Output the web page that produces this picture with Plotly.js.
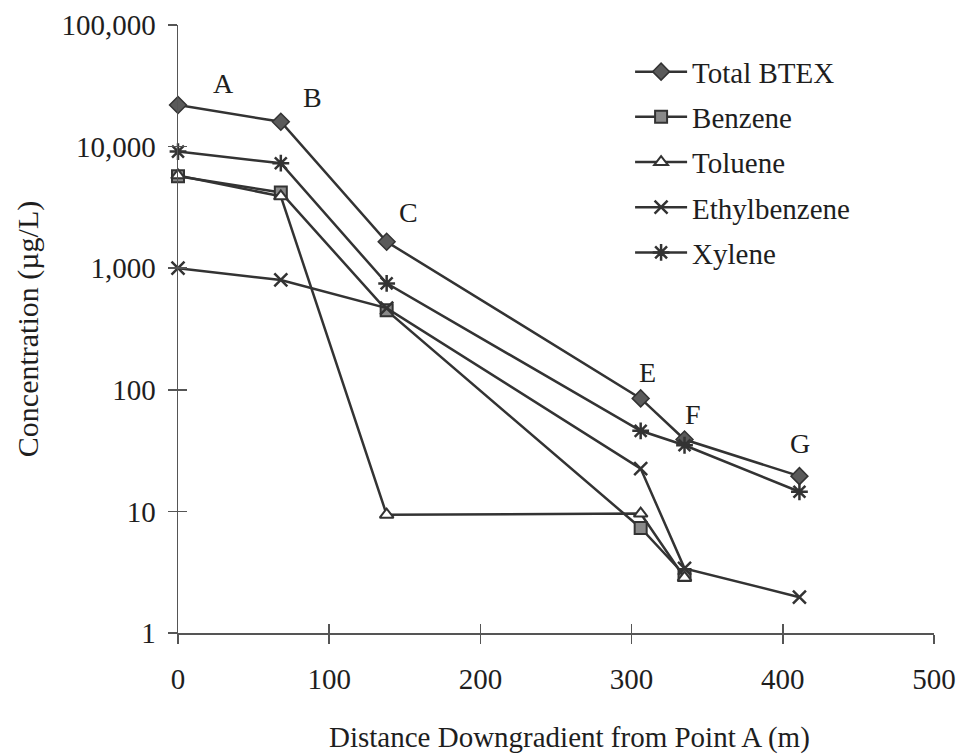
<!DOCTYPE html>
<html>
<head>
<meta charset="utf-8">
<script src="https://cdn.plot.ly/plotly-3.0.1.min.js"></script>
<style>html,body{margin:0;padding:0;background:#fff;}#chart{width:962px;height:756px;}</style>
</head>
<body>
<div id="chart"></div>
<script>
// Distances (m) of sampling points A, B, C, E, F, G
var distance = [0, 68, 138, 306, 335, 411];
var pointLabels = ["A", "B", "C", "E", "F", "G"];
// Concentrations (µg/L)
var totalBTEX    = [22000, 16000, 1650, 85, 39, 19.5];
var benzene      = [5700, 4200, 450, 7.3, 3.0];
var toluene      = [5800, 3900, 9.4, 9.6, 2.85];
var ethylbenzene = [1000, 800, 470, 22.5, 3.4, 1.97];
var xylene       = [9100, 7300, 750, 46, 35, 14.5];
var yTickVals  = [1, 10, 100, 1000, 10000, 100000];
var yTickText  = ["1", "10", "100", "1,000", "10,000", "100,000"];
var xTickVals  = [0, 100, 200, 300, 400, 500];

var FONT = "Liberation Serif";
var INK = "#333333";
var TXT = "#1e1e1e";
var lineStyle = {color: INK, width: 2.5};

function series(name, y, marker, grp) {
  return {
    type: "scatter", mode: "lines+markers", name: name,
    x: distance.slice(0, y.length), y: y,
    line: lineStyle, marker: marker, legendgroup: grp,
    cliponaxis: false
  };
}

var traces = [
  series("Total BTEX", totalBTEX, {symbol: "diamond", size: 13, color: "#5a5a5a", line: {color: INK, width: 1.5}}, "g1"),
  series("Benzene", benzene, {symbol: "square", size: 12, color: "#8a8a8a", line: {color: INK, width: 2}}, "g2"),
  series("Toluene", toluene, {symbol: "triangle-up", size: 12, color: "#ffffff", line: {color: INK, width: 2}}, "g3"),
  series("Ethylbenzene", ethylbenzene, {symbol: "x-thin", size: 13, color: INK, line: {color: INK, width: 2.5}}, "g4"),
  series("Xylene", xylene, {symbol: "asterisk", size: 14, color: INK, line: {color: INK, width: 2.5}}, "g5"),
  // empty carrier trace so the overlay axes (inner halves of the crossing ticks) are drawn
  {type: "scatter", mode: "markers", x: [], y: [], xaxis: "x2", yaxis: "y2", showlegend: false, hoverinfo: "skip"}
];

// point-letter labels placed just above the Total BTEX markers
var shiftsX = [45, 32, 22, 7, 8, 1];
var shiftsY = [21, 24, 29, 26, 25, 33];
var annotations = pointLabels.map(function (t, i) {
  return {
    x: distance[i], y: Math.log10(totalBTEX[i]), xref: "x", yref: "y",
    text: t, showarrow: false, xshift: shiftsX[i], yshift: shiftsY[i],
    font: {family: FONT, size: 28, color: TXT}
  };
});
// x-axis title (slightly right of the plot centre, as in the original)
annotations.push({
  x: 0.5, y: 0, xref: "paper", yref: "paper", xanchor: "center", yanchor: "top",
  xshift: 13, yshift: -86, showarrow: false,
  text: "Distance Downgradient from Point A (m)",
  font: {family: FONT, size: 29, color: TXT}
});

var axisCommon = {
  showgrid: false, zeroline: false, showline: true,
  linecolor: "#555", linewidth: 1.5,
  ticks: "outside", ticklen: 9, tickwidth: 1.5, tickcolor: "#555",
  tickfont: {family: FONT, size: 29, color: TXT}
};

var layout = {
  width: 962, height: 756,
  margin: {l: 178, r: 28, t: 25, b: 123},
  paper_bgcolor: "#fff", plot_bgcolor: "#fff",
  showlegend: true,
  legend: {
    x: 0.598, y: 0.965, xanchor: "left", yanchor: "top",
    font: {family: FONT, size: 29, color: TXT},
    bgcolor: "rgba(0,0,0,0)", traceorder: "grouped", tracegroupgap: 4.5,
    itemwidth: 52
  },
  xaxis: Object.assign({}, axisCommon, {
    range: [0, 500], tickvals: xTickVals, ticklabelstandoff: 11
  }),
  yaxis: Object.assign({}, axisCommon, {
    type: "log", range: [0, 5], tickvals: yTickVals, ticktext: yTickText,
    ticklabelstandoff: 6,
    title: {text: "Concentration (µg/L)", font: {family: FONT, size: 30, color: TXT}, standoff: 14}
  }),
  xaxis2: {overlaying: "x", anchor: "y", range: [0, 500], tickvals: xTickVals, showticklabels: false,
    ticks: "inside", ticklen: 9, tickwidth: 1.5, tickcolor: "#555", showgrid: false, zeroline: false, showline: false},
  yaxis2: {overlaying: "y", anchor: "x", type: "log", range: [0, 5], tickvals: yTickVals, showticklabels: false,
    ticks: "inside", ticklen: 9, tickwidth: 1.5, tickcolor: "#555", showgrid: false, zeroline: false, showline: false},
  annotations: annotations
};

Plotly.newPlot("chart", traces, layout, {displayModeBar: false, staticPlot: true});
</script>
</body>
</html>
